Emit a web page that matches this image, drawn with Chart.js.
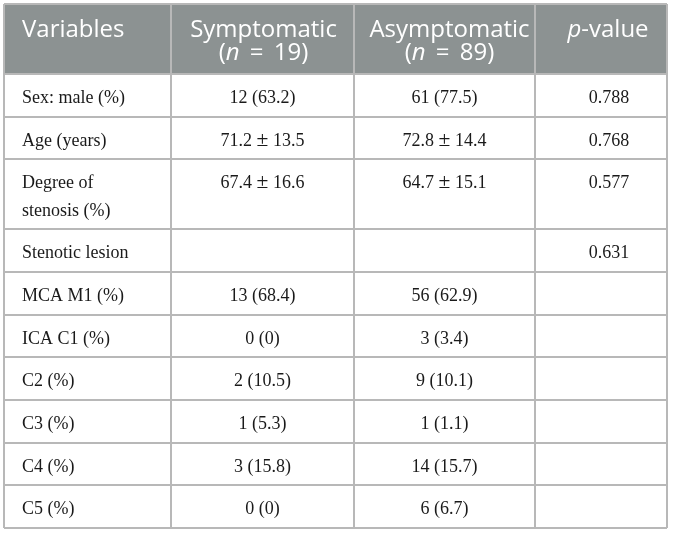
<!DOCTYPE html>
<html>
<head>
<meta charset="utf-8">
<script src="https://cdn.jsdelivr.net/npm/chart.js@4.4.1/dist/chart.umd.min.js"></script>
<style>
  html, body { margin: 0; padding: 0; background: #fff; }
  #wrap { width: 673px; height: 534px; }
</style>
</head>
<body>
<div id="wrap"><canvas id="tableChart" width="673" height="534"></canvas></div>
<script>
// table content (use *x* for italic)
const headers = ['Variables', 'Symptomatic\n(*n* \u2009=\u2009 19)', 'Asymptomatic\n(*n* \u2009=\u2009 89)', '*p*-value'];
const variables = ['Sex: male (%)', 'Age (years)', 'Degree of\nstenosis (%)', 'Stenotic lesion',
    'MCA M1 (%)', 'ICA C1 (%)', 'C2 (%)', 'C3 (%)', 'C4 (%)', 'C5 (%)'];
const symptomatic = ['12 (63.2)', '71.2 ± 13.5', '67.4 ± 16.6', '', '13 (68.4)', '0 (0)',
    '2 (10.5)', '1 (5.3)', '3 (15.8)', '0 (0)'];
const asymptomatic = ['61 (77.5)', '72.8 ± 14.4', '64.7 ± 15.1', '', '56 (62.9)', '3 (3.4)',
    '9 (10.1)', '1 (1.1)', '14 (15.7)', '6 (6.7)'];
const pValues = ['0.788', '0.768', '0.577', '0.631', '', '', '', '', '', ''];

// layout
const colWidths = [167, 183, 181, 132];
const colShift = [18, 0, 0, 8];
const headShift = [18, 1, 5, 7];
const singleRow = 42.7;
const doubleRow = 70;
const lineGap = 28;
const headGap = 23;

const columns = [variables, symptomatic, asymptomatic, pValues];
const lineCount = (s) => s.split('\n').length;

const rowHeights = [doubleRow];
for (let r = 0; r < variables.length; r++) {
    const n = Math.max(...columns.map(c => lineCount(c[r])));
    rowHeights.push(n > 1 ? doubleRow : singleRow);
}
const rowEdges = [0];
rowHeights.forEach(h => rowEdges.push(rowEdges[rowEdges.length - 1] + h));
const colEdges = [0];
colWidths.forEach(w => colEdges.push(colEdges[colEdges.length - 1] + w));

// split a line into runs: italic between *...*, plus-minus drawn a bit larger
function segments(line) {
    const out = [];
    line.split('*').forEach((t, i) => {
        t.split(/(±)/).forEach(p => {
            if (p) out.push({ text: p, italic: i % 2 === 1, big: p === '±' });
        });
    });
    return out;
}

function drawLine(ctx, line, x, y, align, family, size) {
    const segs = segments(line);
    const font = (s) => (s.italic ? 'italic ' : '') + (s.big ? size * 1.2 : size) + 'px ' + family;
    let total = 0;
    segs.forEach(s => { ctx.font = font(s); s.w = ctx.measureText(s.text).width; total += s.w; });
    let cx = align === 'left' ? x : x - total / 2;
    ctx.textAlign = 'left';
    segs.forEach(s => { ctx.font = font(s); ctx.fillText(s.text, cx, y); cx += s.w; });
}

const tablePlugin = {
    id: 'tablePlugin',
    beforeDraw(chart) {
        const { ctx, scales: { x, y } } = chart;
        ctx.save();
        ctx.fillStyle = '#ffffff';
        ctx.fillRect(0, 0, chart.width, chart.height);
        ctx.fillStyle = '#8c9292';
        const x0 = x.getPixelForValue(colEdges[0]);
        const x1 = x.getPixelForValue(colEdges[colEdges.length - 1]);
        const y0 = y.getPixelForValue(rowEdges[0]);
        const y1 = y.getPixelForValue(rowEdges[1]);
        ctx.fillRect(x0, y0, x1 - x0, y1 - y0);
        ctx.restore();
    },
    afterDraw(chart) {
        const { ctx, scales: { x, y } } = chart;
        ctx.save();
        ctx.textBaseline = 'alphabetic';
        // header
        ctx.fillStyle = '#ffffff';
        headers.forEach((h, c) => {
            const left = x.getPixelForValue(colEdges[c]);
            const right = x.getPixelForValue(colEdges[c + 1]);
            const top = y.getPixelForValue(rowEdges[0]);
            h.split('\n').forEach((line, k) => {
                const px = c === 0 ? left + headShift[c] : (left + right) / 2 + headShift[c];
                drawLine(ctx, line, px, top + 33 + k * headGap, c === 0 ? 'left' : 'center', '"Open Sans"', 24);
            });
        });
        // body
        ctx.fillStyle = '#1a1a1a';
        columns.forEach((col, c) => {
            const left = x.getPixelForValue(colEdges[c]);
            const right = x.getPixelForValue(colEdges[c + 1]);
            col.forEach((cell, r) => {
                const top = y.getPixelForValue(rowEdges[r + 1]);
                cell.split('\n').forEach((line, k) => {
                    const px = c === 0 ? left + colShift[c] : (left + right) / 2 + colShift[c];
                    drawLine(ctx, line, px, top + 29 + k * lineGap, c === 0 ? 'left' : 'center', '"Liberation Serif"', 18);
                });
            });
        });
        ctx.restore();
    }
};

const gridOpts = { color: '#b8b8b8', lineWidth: 2, drawTicks: false };

new Chart(document.getElementById('tableChart'), {
    type: 'scatter',
    data: { datasets: [] },
    options: {
        responsive: false,
        animation: false,
        devicePixelRatio: 1,
        layout: { padding: { left: 4, top: 4, right: 6, bottom: 6 } },
        plugins: { legend: { display: false }, tooltip: { enabled: false } },
        scales: {
            x: {
                type: 'linear',
                min: colEdges[0],
                max: colEdges[colEdges.length - 1],
                afterBuildTicks: (s) => { s.ticks = colEdges.map(v => ({ value: v })); },
                ticks: { display: false },
                grid: gridOpts,
                border: { display: false }
            },
            y: {
                type: 'linear',
                reverse: true,
                min: rowEdges[0],
                max: rowEdges[rowEdges.length - 1],
                afterBuildTicks: (s) => { s.ticks = rowEdges.map(v => ({ value: v })); },
                ticks: { display: false },
                grid: gridOpts,
                border: { display: false }
            }
        }
    },
    plugins: [tablePlugin]
});
</script>
</body>
</html>
